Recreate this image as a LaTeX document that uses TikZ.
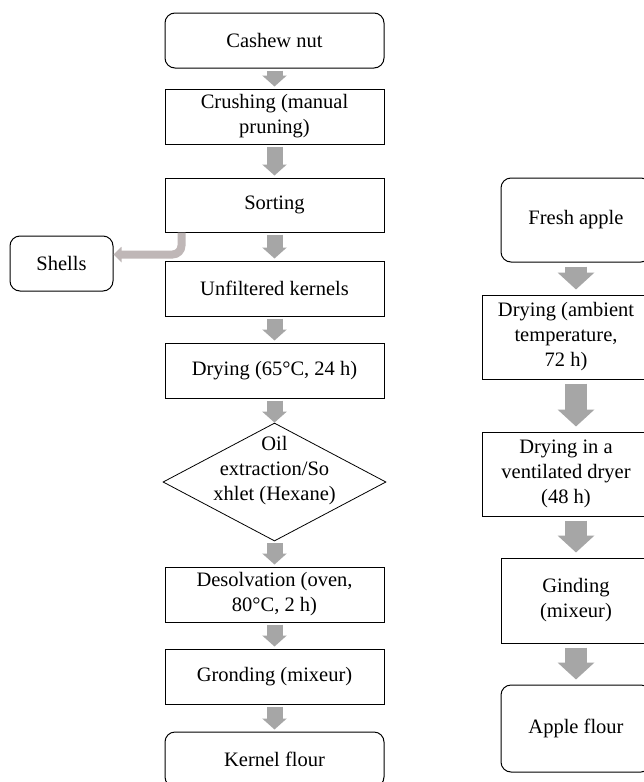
\documentclass[tikz,border=0pt]{standalone}
\usepackage{fontspec}
\setmainfont{Liberation Serif}
\usetikzlibrary{arrows.meta, shapes.geometric}
\usepackage{xcolor}
\definecolor{cinza}{RGB}{166, 166, 166}
\definecolor{cinzaclaro}{RGB}{191, 183, 183}

\begin{document}
\begin{tikzpicture}[
    x=1pt, y=-1pt,
    caixa/.style={
        draw=black,
        line width=1pt,
        minimum width=219pt,
        minimum height=55pt,
        inner sep=2pt,
        align=center,
        font=\fontsize{20.5}{25}\selectfont
    },
    caixaArred/.style={
        caixa,
        rounded corners=10pt
    },
    caixaDir/.style={
        caixa,
        minimum width=150pt,
        minimum height=84pt
    },
    caixaLarga/.style={
        caixaDir,
        minimum width=168pt
    },
    losango/.style={
        diamond,
        draw=black,
        line width=0.8pt,
        minimum width=223pt,
        minimum height=118pt,
        inner sep=0pt
    },
    seta/.style={
        cinza,
        line width=16pt,
        -{Triangle[width=24pt,length=11pt]},
        shorten <=2pt,
        shorten >=2pt
    },
    setaGrande/.style={
        cinza,
        line width=22pt,
        -{Triangle[width=36pt,length=17pt]},
        shorten <=4pt,
        shorten >=5pt
    },
    setaLado/.style={
        cinzaclaro,
        line width=8pt,
        rounded corners=9pt,
        -{Triangle[width=15pt,length=8pt]}
    }
]

\clip (0,0) rectangle (644,782);
\fill[white] (0,0) rectangle (644,782);

% =================================================
% CASTANHA
% =================================================

\node[caixaArred] (cashew) at (274.5,40.5)
{Cashew nut};

\node[caixa] (crush) at (274.5,116.5)
{Crushing (manual\\pruning)};

\node[caixa, minimum height=54pt] (sort) at (274.5,205)
{Sorting};

\node[caixaArred, minimum width=103pt] (shells) at (61.5,263.5)
{Shells};

\node[caixa] (unfilt) at (274.5,288.5)
{Unfiltered kernels};

\node[caixa] (dry) at (274.5,370.5)
{Drying (65°C, 24 h)};

\node[losango, label={[font=\fontsize{20.5}{25}\selectfont, align=center, yshift=11pt]center:Oil\\extraction/So\\xhlet (Hexane)}] (oil) at (274.5,482)
{};

\node[caixa] (desolv) at (274.5,594.5)
{Desolvation (oven,\\80°C, 2 h)};

\node[caixa] (grond) at (274.5,676.5)
{Gronding (mixeur)};

\node[caixaArred] (kernel) at (274.5,759.5)
{Kernel flour};

\draw[seta] (cashew) -- (crush);
\draw[seta] (crush) -- (sort);
\draw[seta] (sort) -- (unfilt);
\draw[seta] (unfilt) -- (dry);
\draw[seta, shorten >=0pt] (dry) -- (oil);
\draw[seta] (oil) -- (desolv);
\draw[seta] (desolv) -- (grond);
\draw[seta] (grond) -- (kernel);

\draw[setaLado] ([xshift=17pt]sort.south west) |- ([yshift=9pt]shells.east);

% =================================================
% MACA
% =================================================

\node[caixaDir, rounded corners=10pt] (fresh) at (576,220)
{Fresh apple};

\node[caixaLarga] (amb) at (566,337)
{Drying (ambient\\temperature,\\72 h)};

\node[caixaLarga] (vent) at (566,474)
{Drying in a\\ventilated dryer\\(48 h)};

\node[caixaDir, minimum height=85pt] (ginding) at (576,600.5)
{Ginding\\(mixeur)};

\node[caixaDir, rounded corners=10pt, minimum height=87pt] (apple) at (576,728.5)
{Apple flour};

\draw[setaGrande] (fresh.south) -- (fresh.south |- amb.north);
\draw[setaGrande] (amb.south -| fresh.south) -- (fresh.south |- vent.north);
\draw[setaGrande] (vent.south -| fresh.south) -- (ginding);
\draw[setaGrande] (ginding) -- (apple);

\end{tikzpicture}
\end{document}
